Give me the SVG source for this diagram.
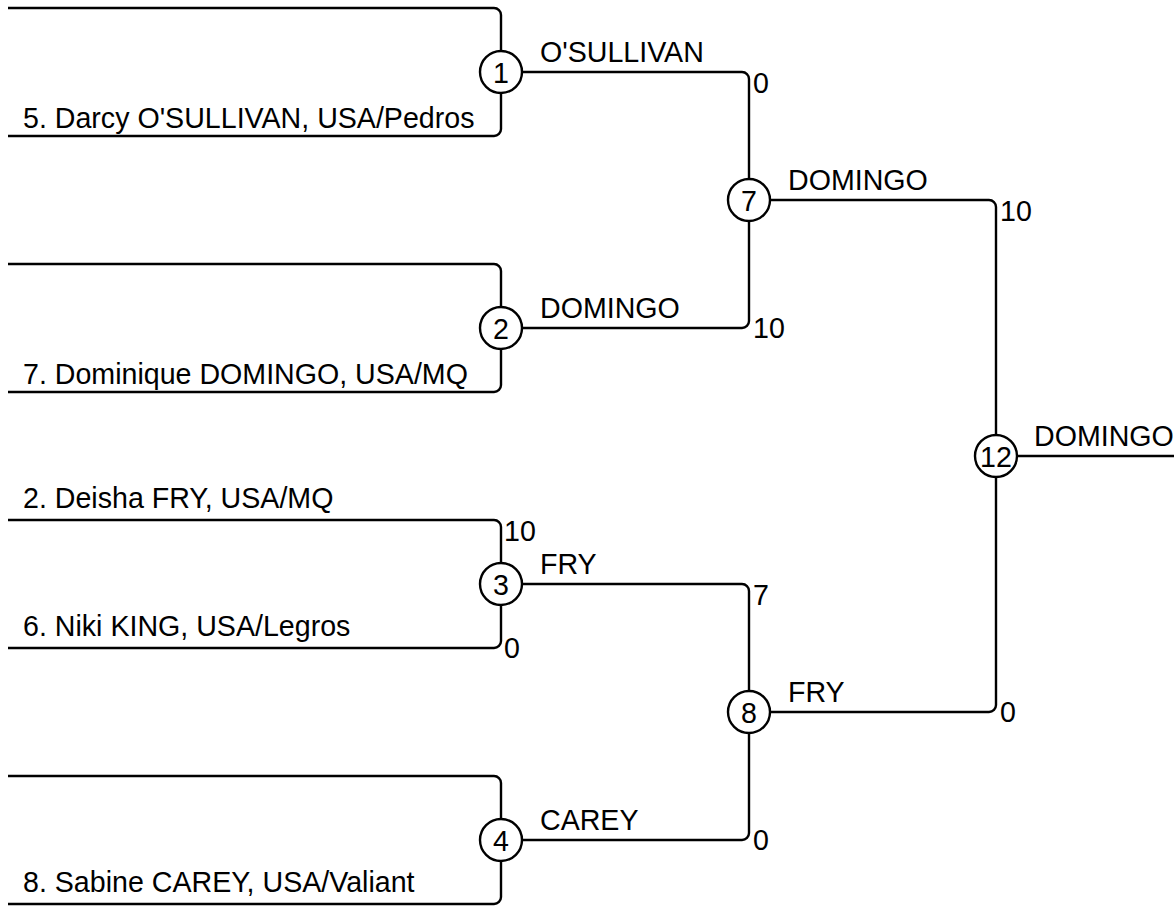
<svg xmlns="http://www.w3.org/2000/svg" width="1174" height="907" viewBox="0 0 1174 907">
<style>
.ln{fill:none;stroke:#000;stroke-width:2.4;stroke-linejoin:round}
.c{fill:#fff;stroke:#000;stroke-width:2.4}
text{font-family:"Liberation Sans",Arial,sans-serif;font-size:28.6px;fill:#000}
.m{text-anchor:middle;dominant-baseline:central}
</style>
<rect width="1174" height="907" fill="#fff"/>
<g id="connectors">
<path class="ln" d="M8 8H494A7 7 0 0 1 501 15V129A7 7 0 0 1 494 136H8"/>
<path class="ln" d="M8 264H494A7 7 0 0 1 501 271V385A7 7 0 0 1 494 392H8"/>
<path class="ln" d="M8 520H494A7 7 0 0 1 501 527V641A7 7 0 0 1 494 648H8"/>
<path class="ln" d="M8 776H494A7 7 0 0 1 501 783V897A7 7 0 0 1 494 904H8"/>
<path class="ln" d="M501 72H742A7 7 0 0 1 749 79V321A7 7 0 0 1 742 328H501"/>
<path class="ln" d="M501 584H742A7 7 0 0 1 749 591V833A7 7 0 0 1 742 840H501"/>
<path class="ln" d="M749 200H989A7 7 0 0 1 996 207V705A7 7 0 0 1 989 712H749"/>
<path class="ln" d="M996 456H1174"/>
</g>
<g id="entries">
<text x="23" y="128">5. Darcy O'SULLIVAN, USA/Pedros</text>
<text x="23" y="384">7. Dominique DOMINGO, USA/MQ</text>
<text x="23" y="508">2. Deisha FRY, USA/MQ</text>
<text x="23" y="636">6. Niki KING, USA/Legros</text>
<text x="23" y="892">8. Sabine CAREY, USA/Valiant</text>
</g>
<g id="labels">
<text x="540" y="62">O'SULLIVAN</text>
<text x="540" y="318">DOMINGO</text>
<text x="540" y="574">FRY</text>
<text x="540" y="830">CAREY</text>
<text x="788" y="190">DOMINGO</text>
<text x="788" y="702">FRY</text>
<text x="1034" y="446">DOMINGO</text>
<text x="504" y="541">10</text>
<text x="504" y="658">0</text>
<text x="753" y="93">0</text>
<text x="753" y="338">10</text>
<text x="753" y="605">7</text>
<text x="753" y="850">0</text>
<text x="1000" y="221">10</text>
<text x="1000" y="722">0</text>
</g>
<g id="node-1"><circle class="c" cx="501" cy="72" r="21"/><text class="m" x="501" y="73">1</text></g>
<g id="node-2"><circle class="c" cx="501" cy="328" r="21"/><text class="m" x="501" y="329">2</text></g>
<g id="node-3"><circle class="c" cx="501" cy="584" r="21"/><text class="m" x="501" y="585">3</text></g>
<g id="node-4"><circle class="c" cx="501" cy="840" r="21"/><text class="m" x="501" y="841">4</text></g>
<g id="node-7"><circle class="c" cx="749" cy="200" r="21"/><text class="m" x="749" y="201">7</text></g>
<g id="node-8"><circle class="c" cx="749" cy="712" r="21"/><text class="m" x="749" y="713">8</text></g>
<g id="node-12"><circle class="c" cx="996" cy="456" r="21"/><text class="m" x="996" y="457">12</text></g>
</svg>
